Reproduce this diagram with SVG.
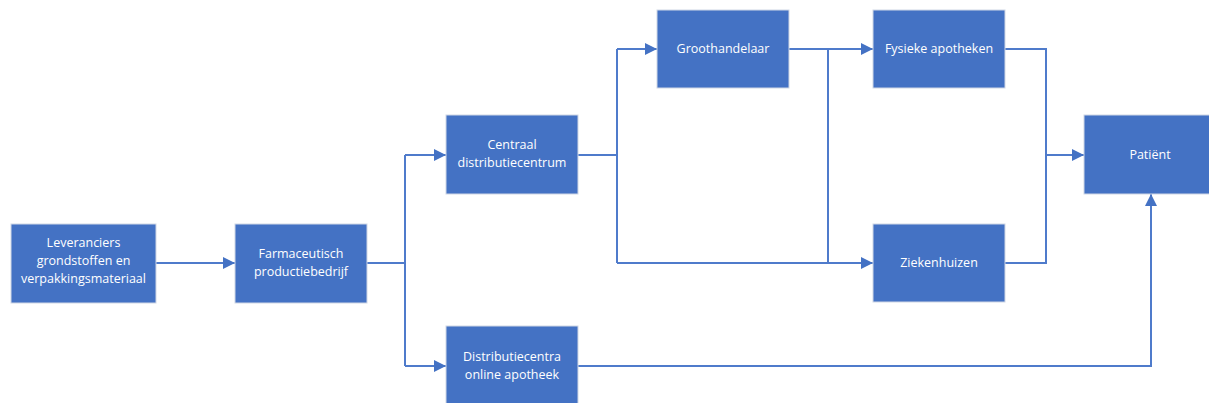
<svg xmlns="http://www.w3.org/2000/svg" width="1209" height="403" viewBox="0 0 1209 403">
<style>
.box{fill:#4472C4;stroke:#D0D7E5;stroke-width:1}
.lbl{fill:#FFFFFF;font-family:"Open Sans","Liberation Sans",sans-serif;font-size:12.5px;text-anchor:middle}
.ln{fill:none;stroke:#4F7BCB;stroke-width:2}
</style>
<defs>
<marker id="ah" viewBox="0 0 10 10" refX="10" refY="5" markerWidth="6" markerHeight="6" orient="auto" markerUnits="strokeWidth">
<path d="M0,0 L10,5 L0,10 z" fill="#4472C4"/>
</marker>
</defs>
<rect width="1209" height="403" fill="#FFFFFF"/>
<g id="connectors">
<path class="ln" d="M156,263 H235" marker-end="url(#ah)"/>
<path class="ln" d="M367,263 H405"/>
<path class="ln" d="M405,155 V366"/>
<path class="ln" d="M405,155 H446" marker-end="url(#ah)"/>
<path class="ln" d="M405,366 H446" marker-end="url(#ah)"/>
<path class="ln" d="M578,155 H617"/>
<path class="ln" d="M617,49 V263"/>
<path class="ln" d="M617,49 H657" marker-end="url(#ah)"/>
<path class="ln" d="M617,263 H873" marker-end="url(#ah)"/>
<path class="ln" d="M789,49 H873" marker-end="url(#ah)"/>
<path class="ln" d="M828,49 V263"/>
<path class="ln" d="M1005,49 H1046 V263 H1005"/>
<path class="ln" d="M1046,155 H1084" marker-end="url(#ah)"/>
<path class="ln" d="M578,366 H1151 V194" marker-end="url(#ah)"/>
</g>
<g id="leveranciers">
<rect class="box" x="11" y="224" width="145" height="79"/>
<text class="lbl" x="83.5" y="247">Leveranciers</text>
<text class="lbl" x="83.5" y="265">grondstoffen en</text>
<text class="lbl" x="83.5" y="283">verpakkingsmateriaal</text>
</g>
<g id="farmaceutisch">
<rect class="box" x="235" y="224" width="132" height="79"/>
<text class="lbl" x="301" y="258">Farmaceutisch</text>
<text class="lbl" x="301" y="276">productiebedrijf</text>
</g>
<g id="centraal">
<rect class="box" x="446" y="115" width="132" height="79"/>
<text class="lbl" x="512" y="149">Centraal</text>
<text class="lbl" x="512" y="167">distributiecentrum</text>
</g>
<g id="groothandelaar">
<rect class="box" x="657" y="10" width="132" height="78"/>
<text class="lbl" x="723" y="53">Groothandelaar</text>
</g>
<g id="fysieke">
<rect class="box" x="873" y="10" width="132" height="78"/>
<text class="lbl" x="939" y="53">Fysieke apotheken</text>
</g>
<g id="ziekenhuizen">
<rect class="box" x="873" y="224" width="132" height="78"/>
<text class="lbl" x="939" y="267">Ziekenhuizen</text>
</g>
<g id="patient">
<rect class="box" x="1084" y="115" width="132" height="79"/>
<text class="lbl" x="1150" y="159">Patiënt</text>
</g>
<g id="distributiecentra">
<rect class="box" x="446" y="326" width="132" height="79"/>
<text class="lbl" x="512" y="361">Distributiecentra</text>
<text class="lbl" x="512" y="379">online apotheek</text>
</g>
</svg>
